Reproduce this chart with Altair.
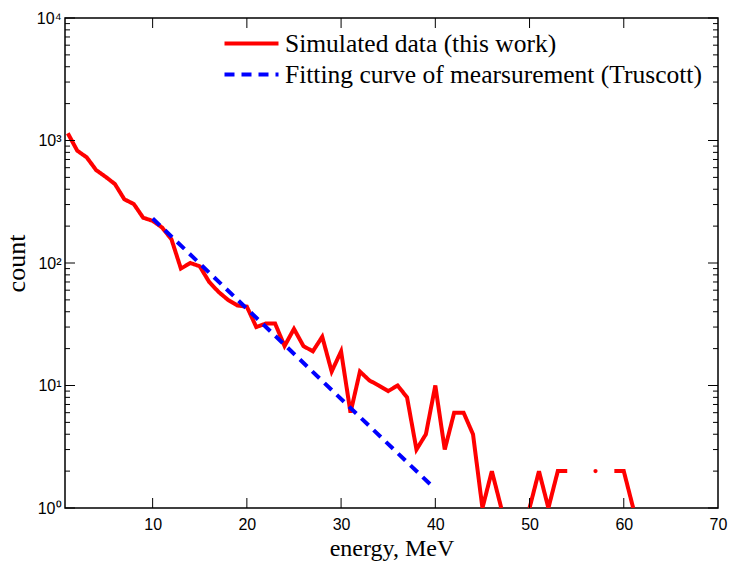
import altair as alt
import pandas as pd

# ---- data ----
energy = list(range(1, 62))
sim_counts = [1145, 826, 729, 574, 506, 441, 331, 303, 234, 221,
              195, 156, 90, 100, 94, 70, 58, 50, 45, 44,
              30, 32, 32, 21, 29, 21, 19, 25, 13, 19,
              6, 13, 11, 10, 9, 10, 8, 3, 4, 10,
              3, 6, 6, 4, 1, 2, 1, 0, 0, 1,
              2, 1, 2, 2, 0, 0, 2, 0, 2, 2,
              1]
fit_energy = [10, 39.5]
fit_counts = [231, 1.55]

x_ticks = [10, 20, 30, 40, 50, 60, 70]
y_ticks = [1, 10, 100, 1000, 10000]
minor_mantissa = [2, 3, 4, 5, 6, 7, 8, 9]
decades = [1, 10, 100, 1000]
y_minor = [m * d for d in decades for m in minor_mantissa]

SIM = "Simulated data (this work)"
FIT = "Fitting curve of mearsurement (Truscott)"

# ---- build tables ----
rows = []
seg = 0
prev_zero = True
for e, c in zip(energy, sim_counts):
    if c > 0:
        if prev_zero:
            seg += 1
        rows.append(dict(energy=e, count=c, series=SIM, seg=seg))
        prev_zero = False
    else:
        prev_zero = True
sim_df = pd.DataFrame(rows)
seg_size = sim_df.groupby("seg")["seg"].transform("size")
lines_df = sim_df[seg_size > 1]
dots_df = sim_df[seg_size == 1]
fit_df = pd.DataFrame(dict(energy=fit_energy, count=fit_counts,
                           series=[FIT] * len(fit_energy), seg=[0] * len(fit_energy)))

W, H = 653, 490
xscale = alt.Scale(domain=[0.7, 70], nice=False, zero=False)
yscale = alt.Scale(type="log", domain=[1, 10000], nice=False)

xaxis = alt.Axis(values=x_ticks, title="energy, MeV", labelFlush=False,
                 labelPadding=8, titleY=47, titleBaseline="alphabetic",
                 titleFontSize=24, labelOverlap=False)
yaxis = alt.Axis(values=y_ticks, title="count",
                 labelExpr="'10' + ['\u2070','\u00b9','\u00b2','\u00b3','\u2074'][round(log(datum.value)/LN10)]",
                 labelPadding=4, titleX=-41, titleBaseline="alphabetic",
                 titleFontSize=26, labelFlush=False, labelOverlap=False)

X = alt.X("energy:Q", scale=xscale, axis=xaxis)
Y = alt.Y("count:Q", scale=yscale, axis=yaxis)

color = alt.Color("series:N",
                  scale=alt.Scale(domain=[SIM, FIT], range=["#ff0000", "#0000ff"]),
                  legend=alt.Legend(title=None))
dash = alt.StrokeDash("series:N",
                      scale=alt.Scale(domain=[SIM, FIT], range=[[1, 0], [10, 7]]),
                      legend=alt.Legend(title=None))

red = alt.Chart(lines_df).mark_line(strokeWidth=4, clip=True).encode(
    x=X, y=Y, color=color, strokeDash=dash, detail="seg:N")
dots = alt.Chart(dots_df).mark_circle(size=18, opacity=1, color="#ff0000", clip=True).encode(
    x=X, y=Y)
blue = alt.Chart(fit_df).mark_line(strokeWidth=4, clip=True).encode(
    x=X, y=Y, color=color, strokeDash=dash, detail="seg:N")

# inside ticks (MATLAB style box)
ymaj_df = pd.DataFrame(dict(count=y_ticks))
ymin_df = pd.DataFrame(dict(count=y_minor))
xmaj_df = pd.DataFrame(dict(energy=x_ticks[:-1]))

tick_style = dict(color="black", strokeWidth=1)
yl_major = alt.Chart(ymaj_df).mark_rule(**tick_style).encode(y=Y, x=alt.value(0), x2=alt.value(10))
yr_major = alt.Chart(ymaj_df).mark_rule(**tick_style).encode(y=Y, x=alt.value(W - 10), x2=alt.value(W))
yl_minor = alt.Chart(ymin_df).mark_rule(**tick_style).encode(y=Y, x=alt.value(0), x2=alt.value(5))
yr_minor = alt.Chart(ymin_df).mark_rule(**tick_style).encode(y=Y, x=alt.value(W - 5), x2=alt.value(W))
xb_major = alt.Chart(xmaj_df).mark_rule(**tick_style).encode(x=X, y=alt.value(H), y2=alt.value(H - 10))
xt_major = alt.Chart(xmaj_df).mark_rule(**tick_style).encode(x=X, y=alt.value(0), y2=alt.value(10))

chart = alt.layer(
    red, dots, blue, yl_major, yr_major, yl_minor, yr_minor, xb_major, xt_major
).properties(
    width=W, height=H,
    autosize=alt.AutoSizeParams(type="none"),
    padding={"left": 65, "top": 18, "right": 14, "bottom": 53},
    background="white",
).configure_view(
    stroke="black", strokeWidth=1.5
).configure_axis(
    ticks=False, tickSize=0, domain=False, grid=False,
    labelFont="Liberation Sans", labelFontSize=16, labelColor="black",
    titleFont="Liberation Serif", titleFontWeight="normal",
    titleColor="black",
).configure_legend(
    orient="none", legendX=171, legendY=10, padding=0,
    labelFont="Liberation Serif", labelFontSize=25.5, labelColor="black",
    labelLimit=700, labelOffset=18,
    symbolType="M-2,0H2", symbolSize=729, symbolStrokeWidth=4,
    rowPadding=2,
)

chart.save("out.html", embed_options={"renderer": "svg", "actions": False})
